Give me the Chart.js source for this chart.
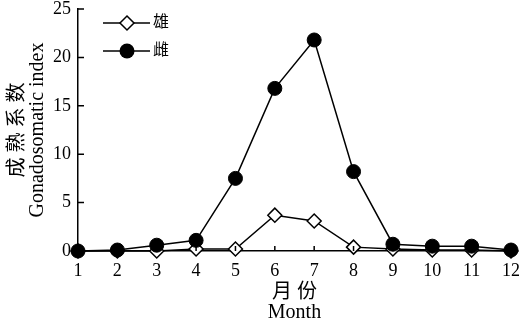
<!DOCTYPE html>
<html>
<head>
<meta charset="utf-8">
<script src="https://cdn.jsdelivr.net/npm/chart.js@4/dist/chart.umd.min.js"></script>
<style>
  html, body { margin: 0; padding: 0; background: #fff; }
  #wrap { width: 522px; height: 323px; }
</style>
</head>
<body>
<div id="wrap"><canvas id="lienzo" width="522" height="323"></canvas></div>
<script>
"use strict";

// datos
const meses = [1, 2, 3, 4, 5, 6, 7, 8, 9, 10, 11, 12];
const machos = [0, 0, 0, 0.2, 0.2, 3.7, 3.1, 0.4, 0.2, 0.1, 0.1, 0];
const hembras = [0, 0.1, 0.6, 1.1, 7.5, 16.8, 21.8, 8.2, 0.7, 0.5, 0.5, 0.1];
const ticksY = [0, 5, 10, 15, 20, 25];
const nombres = ["雄", "雌"];

const FUENTE = "'Liberation Serif', 'Noto Sans CJK SC', serif";

// marcas de los ejes hacia dentro
const marcasEjes = {
  id: "marcasEjes",
  afterDraw(chart) {
    const ctx = chart.ctx;
    const area = chart.chartArea;
    const x = chart.scales.x;
    const y = chart.scales.y;
    ctx.save();
    ctx.strokeStyle = "#000";
    ctx.lineWidth = 1.5;
    ctx.beginPath();
    meses.forEach((m) => {
      const px = x.getPixelForValue(m);
      ctx.moveTo(px, area.bottom);
      ctx.lineTo(px, area.bottom - 5);
    });
    ticksY.forEach((v) => {
      const py = y.getPixelForValue(v);
      ctx.moveTo(area.left, py);
      ctx.lineTo(area.left + 6, py);
    });
    ctx.stroke();
    ctx.restore();
  },
};

// leyenda con linea y marcador
const leyenda = {
  id: "leyenda",
  afterDraw(chart) {
    const ctx = chart.ctx;
    ctx.save();
    ctx.strokeStyle = "#000";
    ctx.lineWidth = 1.5;
    ctx.font = "16px " + FUENTE;
    ctx.textBaseline = "middle";
    ctx.fillStyle = "#000";
    const filas = [23, 51];
    filas.forEach((fy, i) => {
      ctx.beginPath();
      ctx.moveTo(103, fy);
      ctx.lineTo(150, fy);
      ctx.stroke();
      ctx.beginPath();
      if (i === 0) {
        const r = 7;
        ctx.moveTo(127, fy - r);
        ctx.lineTo(127 + r, fy);
        ctx.lineTo(127, fy + r);
        ctx.lineTo(127 - r, fy);
        ctx.closePath();
        ctx.fillStyle = "#fff";
        ctx.fill();
        ctx.stroke();
      } else {
        ctx.arc(127, fy, 7.5, 0, Math.PI * 2);
        ctx.fillStyle = "#000";
        ctx.fill();
      }
      ctx.fillStyle = "#000";
      ctx.fillText(nombres[i], 153, fy);
    });
    ctx.restore();
  },
};

new Chart(document.getElementById("lienzo").getContext("2d"), {
  type: "line",
  data: {
    datasets: [
      {
        label: nombres[0],
        data: meses.map((m, i) => ({ x: m, y: machos[i] })),
        borderColor: "#000",
        borderWidth: 1.5,
        pointStyle: "rectRot",
        pointRadius: 7,
        pointBackgroundColor: "#fff",
        pointBorderColor: "#000",
        pointBorderWidth: 1.5,
        clip: false,
        order: 1,
      },
      {
        label: nombres[1],
        data: meses.map((m, i) => ({ x: m, y: hembras[i] })),
        borderColor: "#000",
        borderWidth: 1.5,
        pointStyle: "circle",
        pointRadius: 7,
        pointBackgroundColor: "#000",
        pointBorderColor: "#000",
        pointBorderWidth: 1,
        clip: false,
        order: 0,
      },
    ],
  },
  options: {
    responsive: false,
    animation: false,
    layout: { padding: { top: 9, right: 11, bottom: 0, left: 0 } },
    plugins: { legend: { display: false }, tooltip: { enabled: false } },
    scales: {
      x: {
        type: "linear",
        min: 1,
        max: 12,
        afterFit(s) {
          s.height = 72;
          s.paddingLeft = 0;
          s.paddingRight = 0;
        },
        afterBuildTicks(s) { s.ticks = meses.map((m) => ({ value: m })); },
        grid: { display: false, drawTicks: false },
        border: { display: true, color: "#000", width: 1.5 },
        ticks: {
          color: "#000",
          padding: 11,
          maxRotation: 0,
          autoSkip: false,
          font: { family: FUENTE, size: 18, lineHeight: 1 },
        },
        title: {
          display: true,
          text: ["月 份", "Month"],
          color: "#000",
          padding: { top: 0, bottom: 0 },
          font: { family: FUENTE, size: 20, lineHeight: 1 },
        },
      },
      y: {
        min: 0,
        max: 25,
        afterFit(s) {
          s.width = 78;
          s.paddingTop = 0;
          s.paddingBottom = 0;
        },
        afterBuildTicks(s) { s.ticks = ticksY.map((v) => ({ value: v })); },
        grid: { display: false, drawTicks: false },
        border: { display: true, color: "#000", width: 1.5 },
        ticks: {
          color: "#000",
          padding: 7,
          font: { family: FUENTE, size: 18, lineHeight: 1 },
        },
        title: {
          display: true,
          text: ["成 熟 系 数", "Gonadosomatic index"],
          color: "#000",
          padding: { top: 8, bottom: 0 },
          font: { family: FUENTE, size: 20, lineHeight: 1 },
        },
      },
    },
  },
  plugins: [marcasEjes, leyenda],
});
</script>
</body>
</html>
